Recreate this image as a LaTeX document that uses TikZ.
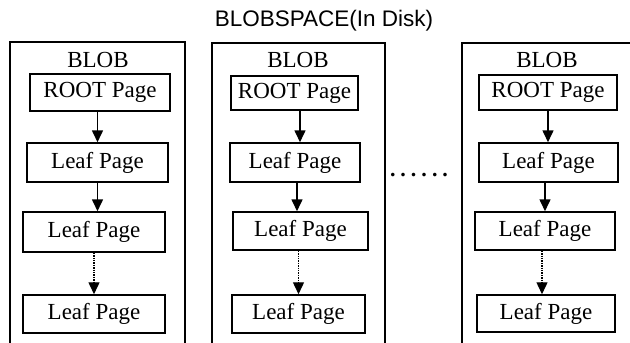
\documentclass[tikz,border=0pt]{standalone}
\usepackage{fontspec}
\setmainfont{Liberation Serif}
\newfontfamily\titlefont{Liberation Sans}
\usetikzlibrary{arrows.meta}
\tikzset{
  page/.style={draw, line width=1.5pt, inner sep=0pt, font=\fontsize{23}{25}\selectfont},
  lbl/.style={inner sep=0pt, font=\fontsize{23}{25}\selectfont},
  arr/.style={line width=1.6pt, -{Triangle[length=12pt,width=11pt]}},
  darr/.style={line width=1.4pt, densely dotted, -{Triangle[length=12pt,width=11pt]}},
  outer/.style={line width=1.5pt},
}
\begin{document}
\begin{tikzpicture}[x=1pt,y=-1pt]
\useasboundingbox[fill=white] (0,0) rectangle (630,343);
\node[inner sep=0pt, font=\titlefont\fontsize{22.5}{24}\selectfont] (title) at (324,21) {BLOBSPACE(In Disk)};
% outer boxes
\draw[outer] (10,344) -- (10,42) -- (185,42) -- (185,344);
\draw[outer] (212,344) -- (212,43) -- (385,43) -- (385,344);
\draw[outer] (462,344) -- (462,43) -- (631,43);
% labels
\node[lbl] (blob1) at (98,60) {BLOB};
\node[lbl] (blob2) at (298,60) {BLOB};
\node[lbl] (blob3) at (547,60) {BLOB};
% column 1
\node[page, minimum width=140pt, minimum height=37pt] (r1) at (100,92.5) {ROOT Page};
\node[page, minimum width=141pt, minimum height=39pt] (a1) at (97.5,162.5) {Leaf Page};
\node[page, minimum width=142pt, minimum height=40pt] (b1) at (94,232) {Leaf Page};
\node[page, minimum width=142pt, minimum height=38pt] (c1) at (94,314) {Leaf Page};
% column 2
\node[page, minimum width=127pt, minimum height=34pt] (r2) at (294.5,93) {ROOT Page};
\node[page, minimum width=130pt, minimum height=39pt] (a2) at (295,162.5) {Leaf Page};
\node[page, minimum width=135pt, minimum height=38pt] (b2) at (300.5,231) {Leaf Page};
\node[page, minimum width=133pt, minimum height=38pt] (c2) at (298.5,314) {Leaf Page};
% column 3
\node[page, minimum width=138pt, minimum height=35pt] (r3) at (548,92.5) {ROOT Page};
\node[page, minimum width=139pt, minimum height=39pt] (a3) at (548.5,162.5) {Leaf Page};
\node[page, minimum width=140pt, minimum height=38pt] (b3) at (545,231) {Leaf Page};
\node[page, minimum width=138pt, minimum height=37pt] (c3) at (546,313.5) {Leaf Page};
% arrows
\draw[arr] (r1.south -| a1.north) -- (a1.north);
\draw[arr] (a1.south) -- (a1.south |- b1.north);
\draw[darr] (b1.south) -- (c1.north);
\draw[arr] (r2.south -| 300,0) -- (a2.north -| 300,0);
\draw[arr] (a2.south -| 297,0) -- (b2.north -| 297,0);
\draw[darr] (b2.south -| c2.north) -- (c2.north);
\draw[arr] (r3.south) -- (r3.south |- a3.north);
\draw[arr] (a3.south -| b3.north) -- (b3.north);
\draw[darr] (b3.south -| 542,0) -- (c3.north -| 542,0);
% ellipsis between columns
\node[lbl, font=\bfseries\fontsize{22}{24}\selectfont] (dots) at (419,175) {.\hspace{5pt}.\hspace{5pt}.\hspace{5pt}.\hspace{5pt}.\hspace{5pt}.};
\end{tikzpicture}
\end{document}
